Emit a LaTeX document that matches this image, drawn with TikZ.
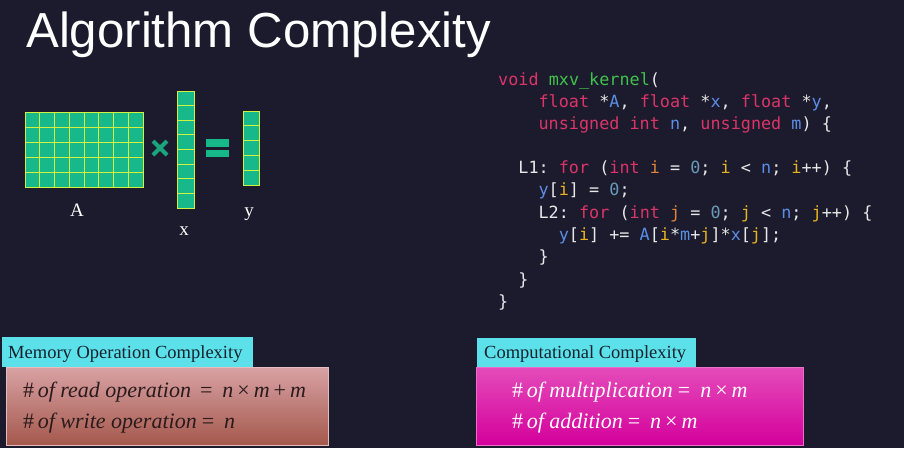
\documentclass[tikz,border=0pt]{standalone}
\usepackage{fontspec}
\setmainfont{Liberation Serif}
\newfontfamily\titlefont{Liberation Sans}
\newfontfamily\codefont{DejaVu Sans Mono}
\usetikzlibrary{calc}

\definecolor{bg}{HTML}{1C1B2D}
\definecolor{cellfill}{HTML}{17B98A}
\definecolor{cellline}{HTML}{D2F03C}
\definecolor{opgreen}{HTML}{1AA57C}
\definecolor{kw}{HTML}{DC3468}
\definecolor{fn}{HTML}{3FC24A}
\definecolor{var}{HTML}{5B8EE6}
\definecolor{idx}{HTML}{E8B41E}
\definecolor{decl}{HTML}{E0843C}
\definecolor{num}{HTML}{6A9AB8}
\definecolor{punct}{HTML}{E8E8E8}
\definecolor{hdrcyan}{HTML}{5CE0EA}
\definecolor{hdrtext}{HTML}{15222E}
\definecolor{memtext}{HTML}{2A1A1C}
\definecolor{memtop}{HTML}{D8A2A4}
\definecolor{membot}{HTML}{A4584C}
\definecolor{comptop}{HTML}{E44CBA}
\definecolor{compbot}{HTML}{D4009C}

\newcommand\ckw[1]{\textcolor{kw}{#1}}
\newcommand\cfn[1]{\textcolor{fn}{#1}}
\newcommand\cvar[1]{\textcolor{var}{#1}}
\newcommand\cidx[1]{\textcolor{idx}{#1}}
\newcommand\cdecl[1]{\textcolor{decl}{#1}}
\newcommand\cnum[1]{\textcolor{num}{#1}}
\newcommand\opsp{\hspace{4pt}}

\begin{document}
\frenchspacing
\begin{tikzpicture}[x=1pt,y=-1pt,
  codeline/.style={anchor=base west,inner sep=0,text=punct,
    font=\codefont\fontsize{16.8}{20}\selectfont},
  veclabel/.style={anchor=base,inner sep=0,text=white,
    font=\fontsize{19}{22}\selectfont},
  hdrtxt/.style={anchor=base west,inner sep=0,text=hdrtext,
    font=\fontsize{18.5}{22}\selectfont},
  bodytxt/.style={anchor=base west,inner sep=0,
    font=\fontsize{22}{26}\selectfont},
  opbar/.style={line width=4pt,opgreen}]

% canvas
\fill[bg] (0,0) rectangle (904,448);
\useasboundingbox (0,0) rectangle (904,448);

% title
\node[anchor=base west,inner sep=0,text=white,
  font=\titlefont\fontsize{49.2}{52}\selectfont] (title) at (26,47) {Algorithm Complexity};

% matrix A: 8 x 5 cells
\fill[cellfill] (25,112) rectangle (143,187);
\foreach \i in {1,...,7} \draw[cellline,line width=0.8pt] (25+\i*14.75,112) -- (25+\i*14.75,187);
\foreach \j in {1,...,4} \draw[cellline,line width=0.8pt] (25,112+\j*15) -- (143,112+\j*15);
\draw[cellline,line width=1pt] (25,112) rectangle (143,187);

% vector x: 8 cells
\fill[cellfill] (177,91) rectangle (194,208);
\foreach \j in {1,...,7} \draw[cellline,line width=0.8pt] (177,91+\j*14.625) -- (194,91+\j*14.625);
\draw[cellline,line width=1pt] (177,91) rectangle (194,208);

% vector y: 5 cells
\fill[cellfill] (243,111) rectangle (259,185);
\foreach \j in {1,...,4} \draw[cellline,line width=0.8pt] (243,111+\j*14.8) -- (259,111+\j*14.8);
\draw[cellline,line width=1pt] (243,111) rectangle (259,185);

% times and equals signs
\draw[opbar] (153,141) -- (167,155);
\draw[opbar] (153,155) -- (167,141);
\fill[cellfill] (206,139) rectangle (229,146.5);
\fill[cellfill] (206,149.5) rectangle (229,157);

% operand labels
\node[veclabel] (labA) at (77,216) {A};
\node[veclabel] (labx) at (184,235) {x};
\node[veclabel] (laby) at (249,216) {y};

% kernel source
\node[codeline] (c1) at (498,85) {\ckw{void} \cfn{mxv\_kernel}(};
\node[codeline] (c2) at (538.4,107) {\ckw{float} *\cvar{A}, \ckw{float} *\cvar{x}, \ckw{float} *\cvar{y},};
\node[codeline] (c3) at (538.4,129) {\ckw{unsigned int} \cvar{n}, \ckw{unsigned} \cvar{m}) \{};
\node[codeline] (c4) at (518.2,173.5) {L1: \ckw{for} (\ckw{int} \cdecl{i} = \cnum{0}; \cidx{i} < \cvar{n}; \cidx{i}++) \{};
\node[codeline] (c5) at (538.4,195.5) {\cvar{y}[\cidx{i}] = \cnum{0};};
\node[codeline] (c6) at (538.4,218) {L2: \ckw{for} (\ckw{int} \cdecl{j} = \cnum{0}; \cidx{j} < \cvar{n}; \cidx{j}++) \{};
\node[codeline] (c7) at (558.6,240.5) {\cvar{y}[\cidx{i}] += \cvar{A}[\cidx{i}*\cvar{m}+\cidx{j}]*\cvar{x}[\cidx{j}];};
\node[codeline] (c8) at (538.4,262.5) {\}};
\node[codeline] (c9) at (518.2,285) {\}};
\node[codeline] (c10) at (498,307) {\}};

% memory operation complexity panel
\shade[top color=memtop,bottom color=membot] (6,367) rectangle (328,445);
\draw[memtop!70!white,line width=0.6pt] (6,367) rectangle (328,445);
\fill[hdrcyan] (2,337) rectangle (253,367);
\node[hdrtxt] (memhdr) at (8,358.5) {Memory Operation Complexity};
\node[bodytxt,text=memtext] (mem1) at (23,397)
  {\#\,\textit{of read operation}\hspace{9pt}=\hspace{10pt}\textit{n}\opsp×\opsp\textit{m}\opsp+\opsp\textit{m}};
\node[bodytxt,text=memtext] (mem2) at (23,428)
  {\#\,\textit{of write operation}\hspace{5pt}=\hspace{10pt}\textit{n}};

% computational complexity panel
\shade[top color=comptop,bottom color=compbot] (476,367) rectangle (803,445);
\draw[comptop!80!white,line width=0.6pt] (476,367) rectangle (803,445);
\fill[hdrcyan] (477,338) rectangle (696,367);
\node[hdrtxt] (comphdr) at (484,358.5) {Computational Complexity};
\node[bodytxt,text=white] (comp1) at (512,397)
  {\#\,\textit{of multiplication}\hspace{5pt}=\hspace{10pt}\textit{n}\opsp×\opsp\textit{m}};
\node[bodytxt,text=white] (comp2) at (512,428)
  {\#\,\textit{of addition}\hspace{5pt}=\hspace{10pt}\textit{n}\opsp×\opsp\textit{m}};

\end{tikzpicture}
\end{document}
